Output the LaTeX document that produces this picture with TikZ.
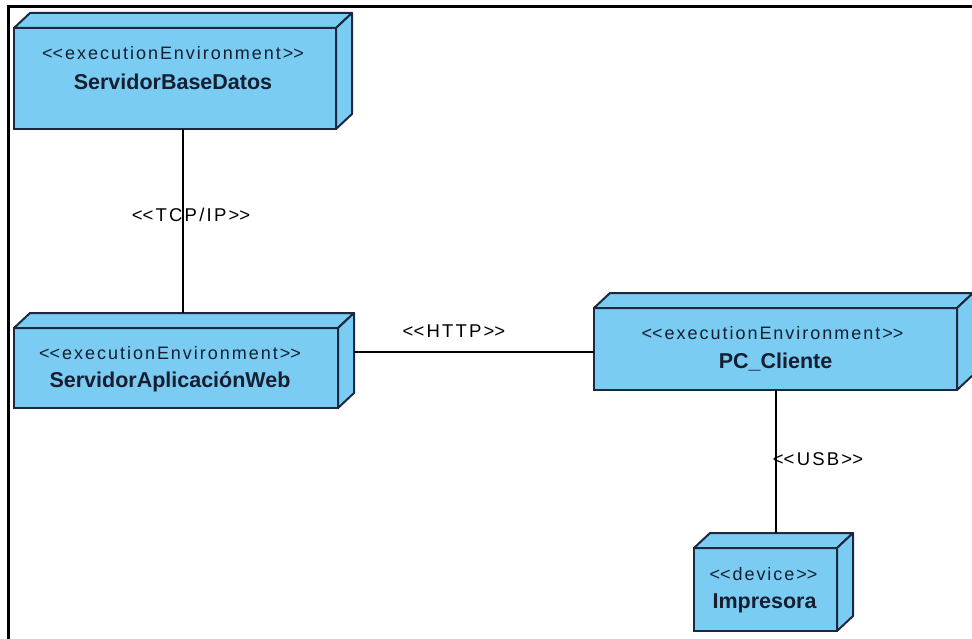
\documentclass[tikz,border=0pt]{standalone}
\usepackage{fontspec}
\setmainfont{Liberation Sans}
\newfontfamily\stfont[LetterSpace=11]{Liberation Sans}
\newfontfamily\lblfont[LetterSpace=12]{Liberation Sans}
\usetikzlibrary{calc}
\definecolor{nodefill}{RGB}{122,204,242}
\definecolor{nodeedge}{RGB}{28,40,64}
\definecolor{nodetext}{RGB}{22,30,48}
% guillemet-free double angle brackets
\newcommand\lang{<\kern0pt<}
\newcommand\rang{>\kern0pt>}
\begin{document}
\begin{tikzpicture}[x=1pt,y=-1pt,
  front/.style={draw=nodeedge, fill=nodefill, line width=2pt, rectangle,
    inner sep=0pt, outer sep=0pt, anchor=north west},
  face/.style={draw=nodeedge, fill=nodefill, line width=2pt, line join=round},
  stereo/.style={font=\stfont\fontsize{18}{20}\selectfont, text=nodetext, inner sep=0pt},
  title/.style={font=\bfseries\fontsize{21.5}{24}\selectfont, text=nodetext, inner sep=0pt},
  link/.style={draw=black, line width=2pt},
  linklabel/.style={font=\lblfont\fontsize{18.5}{20}\selectfont, text=black, inner sep=0pt}]
\useasboundingbox (0,0) rectangle (972,639);

% frame
\draw[line width=3pt] (8.5,639) -- (8.5,6.5) -- (972,6.5);

% front faces of the nodes
\node[front, minimum width=322pt, minimum height=101pt] (db)  at (14,28)  {};
\node[front, minimum width=324pt, minimum height=80pt]  (web) at (14,328) {};
\node[front, minimum width=363pt, minimum height=82pt]  (pc)  at (594,308) {};
\node[front, minimum width=143pt, minimum height=83pt]  (prn) at (694,548) {};

% top and side faces
\foreach \n in {db,web,pc,prn}{
  \filldraw[face] (\n.north west) -- ++(16,-15) -- ($(\n.north east)+(16,-15)$) -- (\n.north east) -- cycle;
  \filldraw[face] (\n.north east) -- ++(16,-15) -- ($(\n.south east)+(16,-15)$) -- (\n.south east) -- cycle;
  \coordinate (\n-top) at ($(\n.north)+(8,-15)$);
}

% node texts
\node[stereo] (db-st)   at ($(db.north)+(-2,25)$)  {\lang executionEnvironment\rang};
\node[title]  (db-nm)   at ($(db.north)+(-2,54)$)  {ServidorBaseDatos};
\node[stereo] (web-st)  at ($(web.north)+(-6,25)$) {\lang executionEnvironment\rang};
\node[title]  (web-nm)  at ($(web.north)+(-6,54)$) {ServidorAplicaciónWeb};
\node[stereo] (pc-st)   at ($(pc.north)+(-3,25)$)  {\lang executionEnvironment\rang};
\node[title]  (pc-nm)   at ($(pc.north)+(0,54)$)   {PC\_Cliente};
\node[stereo] (prn-st)  at ($(prn.north)+(-2,26)$) {\lang device\rang};
\node[title]  (prn-nm)  at ($(prn.north)+(-1,55)$) {Impresora};

% connectors
\draw[link] ([xshift=8pt]db.south) -- ([xshift=8pt]db.south |- web-top);
\draw[link] ($(web.east)+(16,-16)$) -- (pc.west |- 0,352);
\draw[link] (pc.south) -- (pc.south |- prn-top);

% connector labels
\node[linklabel] (tcp)  at (191,215) {\lang TCP/IP\rang};
\node[linklabel] (http) at (454,331) {\lang HTTP\rang};
\node[linklabel] (usb)  at (818,459) {\lang USB\rang};
\end{tikzpicture}
\end{document}
